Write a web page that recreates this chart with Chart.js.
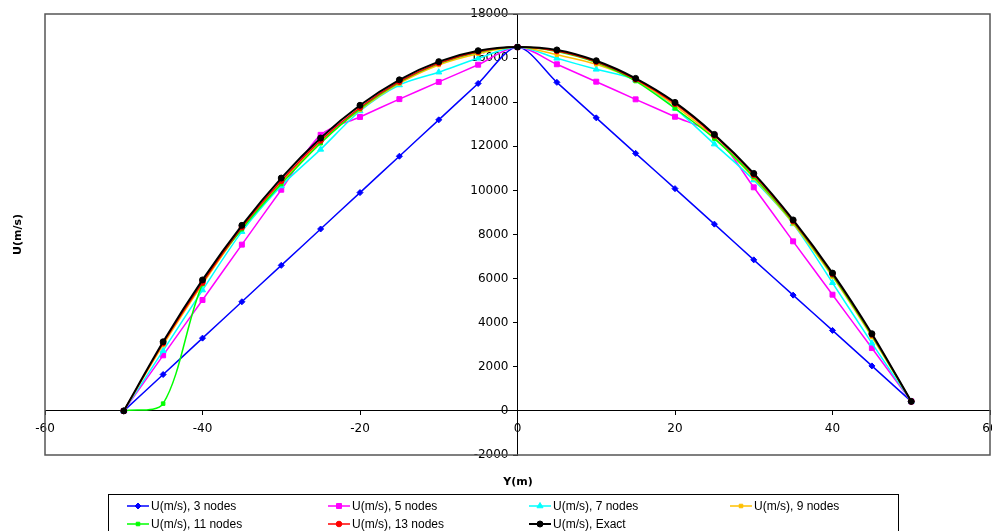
<!DOCTYPE html>
<html>
<head>
<meta charset="utf-8">
<script src="https://cdn.jsdelivr.net/npm/chart.js@4.4.1/dist/chart.umd.min.js"></script>
<style>
  html, body { margin: 0; padding: 0; background: #fff; }
  #wrap { width: 992px; height: 531px; }
</style>
</head>
<body>
<div id="wrap"><canvas id="chart"></canvas></div>
<script>
// Y position (m) of every node
const yPos = [-50, -45, -40, -35, -30, -25, -20, -15, -10, -5, 0, 5, 10, 15, 20, 25, 30, 35, 40, 45, 50];

// U (m/s)
const u3 = [0, 1650, 3300, 4950, 6600, 8250, 9900, 11550, 13200, 14850, 16500, 14900, 13290, 11680, 10080, 8470, 6850, 5250, 3650, 2040, 430];
const u5 = [0, 2520, 5030, 7540, 10030, 12520, 13330, 14140, 14920, 15700, 16500, 15720, 14930, 14130, 13340, 12520, 10140, 7690, 5270, 2850, 430];
const u7 = [0, 2730, 5480, 8130, 10200, 11860, 13600, 14780, 15360, 15990, 16500, 15990, 15490, 15000, 13720, 12100, 10470, 8480, 5810, 3070, 430];
const u9 = [0, 2990, 5750, 8260, 10350, 12190, 13650, 14850, 15690, 16200, 16500, 16150, 15720, 14990, 13840, 12380, 10560, 8500, 6090, 3360, 430];
const u11 = [0, 330, 5750, 8240, 10290, 12140, 13700, 14900, 15750, 16270, 16500, 16300, 15800, 14960, 13720, 12350, 10620, 8560, 6150, 3420, 430];
const u13 = [0, 3070, 5820, 8330, 10430, 12260, 13760, 14930, 15770, 16290, 16500, 16320, 15830, 15040, 13930, 12490, 10710, 8610, 6200, 3460, 430];
const uExact = [0, 3135, 5940, 8415, 10560, 12375, 13860, 15015, 15840, 16335, 16500, 16370, 15880, 15080, 13990, 12540, 10770, 8660, 6250, 3500, 430];

const seriesNames = ['U(m/s), 3 nodes', 'U(m/s), 5 nodes', 'U(m/s), 7 nodes', 'U(m/s), 9 nodes',
                     'U(m/s), 11 nodes', 'U(m/s), 13 nodes', 'U(m/s), Exact'];
const xTicks = { min: -60, max: 60, step: 20 };
const yTicks = { min: -2000, max: 18000, step: 2000 };

function points(vals) {
    return vals.map((v, i) => ({ x: yPos[i], y: v }));
}

function series(label, vals, color, style, radius, width, order) {
    return {
        label: label,
        data: points(vals),
        borderColor: color,
        backgroundColor: color,
        borderWidth: width,
        pointStyle: style,
        pointRadius: radius,
        pointBorderWidth: 1,
        pointHoverRadius: radius,
        tension: 0.3,
        fill: false,
        order: order
    };
}

const datasets = [
    series(seriesNames[0], u3, '#0000FF', 'rectRot', 3, 1.5, 6),
    series(seriesNames[1], u5, '#FF00FF', 'rect', 3.5, 1.5, 5),
    series(seriesNames[2], u7, '#00FFFF', 'triangle', 3.5, 1.5, 4),
    series(seriesNames[3], u9, '#FFC000', 'rect', 2.5, 1.5, 3),
    series(seriesNames[4], u11, '#00FF00', 'rect', 2.5, 1.5, 2),
    series(seriesNames[5], u13, '#FF0000', 'circle', 2.8, 1.5, 1),
    series(seriesNames[6], uExact, '#000000', 'circle', 3, 2, 0)
];

// y labels of an axis placed at x = 0 get no padding from Chart.js, push them left a bit
const yLabelGap = {
    id: 'yLabelGap',
    beforeDraw(chart) {
        const items = chart.scales.y.getLabelItems();
        if (!items._moved) {
            items.forEach(it => { it.options.translation[0] -= 9; });
            items._moved = true;
        }
    }
};

// plot frame, axis titles and the boxed legend
const extras = {
    id: 'extras',
    afterDraw(chart) {
        const { ctx, chartArea: a } = chart;
        ctx.save();
        ctx.strokeStyle = '#555';
        ctx.lineWidth = 1.5;
        ctx.strokeRect(a.left, a.top, a.right - a.left, a.bottom - a.top);

        ctx.fillStyle = '#000';
        ctx.font = 'bold 11px "DejaVu Sans"';
        ctx.textAlign = 'center';
        ctx.textBaseline = 'middle';
        ctx.fillText('Y(m)', 518, 482);
        ctx.save();
        ctx.translate(18, (a.top + a.bottom) / 2);
        ctx.rotate(-Math.PI / 2);
        ctx.fillText('U(m/s)', 0, 0);
        ctx.restore();

        ctx.strokeStyle = '#000';
        ctx.lineWidth = 1;
        ctx.strokeRect(108.5, 494.5, 790, 50);
        ctx.font = '12px "Liberation Sans"';
        ctx.textAlign = 'left';
        chart.data.datasets.forEach((ds, i) => {
            const x = 127 + (i % 4) * 201;
            const y = 506 + Math.floor(i / 4) * 18;
            ctx.strokeStyle = ds.borderColor;
            ctx.fillStyle = ds.borderColor;
            ctx.lineWidth = ds.borderWidth;
            ctx.beginPath();
            ctx.moveTo(x, y);
            ctx.lineTo(x + 22, y);
            ctx.stroke();
            ctx.lineWidth = 1;
            Chart.helpers.drawPoint(ctx, { pointStyle: ds.pointStyle, radius: ds.pointRadius, borderWidth: 1, rotation: 0 }, x + 11, y);
            ctx.fillStyle = '#000';
            ctx.fillText(ds.label, x + 24, y + 1);
        });
        ctx.restore();
    }
};

const tickFont = { family: 'DejaVu Sans', size: 12 };

new Chart(document.getElementById('chart'), {
    type: 'line',
    data: { datasets: datasets },
    options: {
        responsive: true,
        maintainAspectRatio: false,
        animation: false,
        layout: { autoPadding: false, padding: { left: 45, right: 2, top: 14, bottom: 76 } },
        plugins: {
            legend: { display: false },
            tooltip: { enabled: false },
            title: { display: false }
        },
        scales: {
            x: {
                type: 'linear',
                min: xTicks.min,
                max: xTicks.max,
                position: { y: 0 },
                grid: { drawOnChartArea: false, tickLength: 4, color: '#000' },
                border: { color: '#000', width: 1 },
                ticks: { stepSize: xTicks.step, color: '#000', font: tickFont, padding: 7, maxRotation: 0,
                         callback: v => String(v) },
                afterFit: s => { s.paddingLeft = 0; s.paddingRight = 0; }
            },
            y: {
                type: 'linear',
                min: yTicks.min,
                max: yTicks.max,
                position: { x: 0 },
                grid: { drawOnChartArea: false, tickLength: 4, color: '#000' },
                border: { color: '#000', width: 1 },
                ticks: { stepSize: yTicks.step, color: '#000', font: tickFont,
                         callback: v => String(v) },
                afterFit: s => { s.paddingTop = 0; s.paddingBottom = 0; }
            }
        }
    },
    plugins: [yLabelGap, extras]
});
</script>
</body>
</html>
